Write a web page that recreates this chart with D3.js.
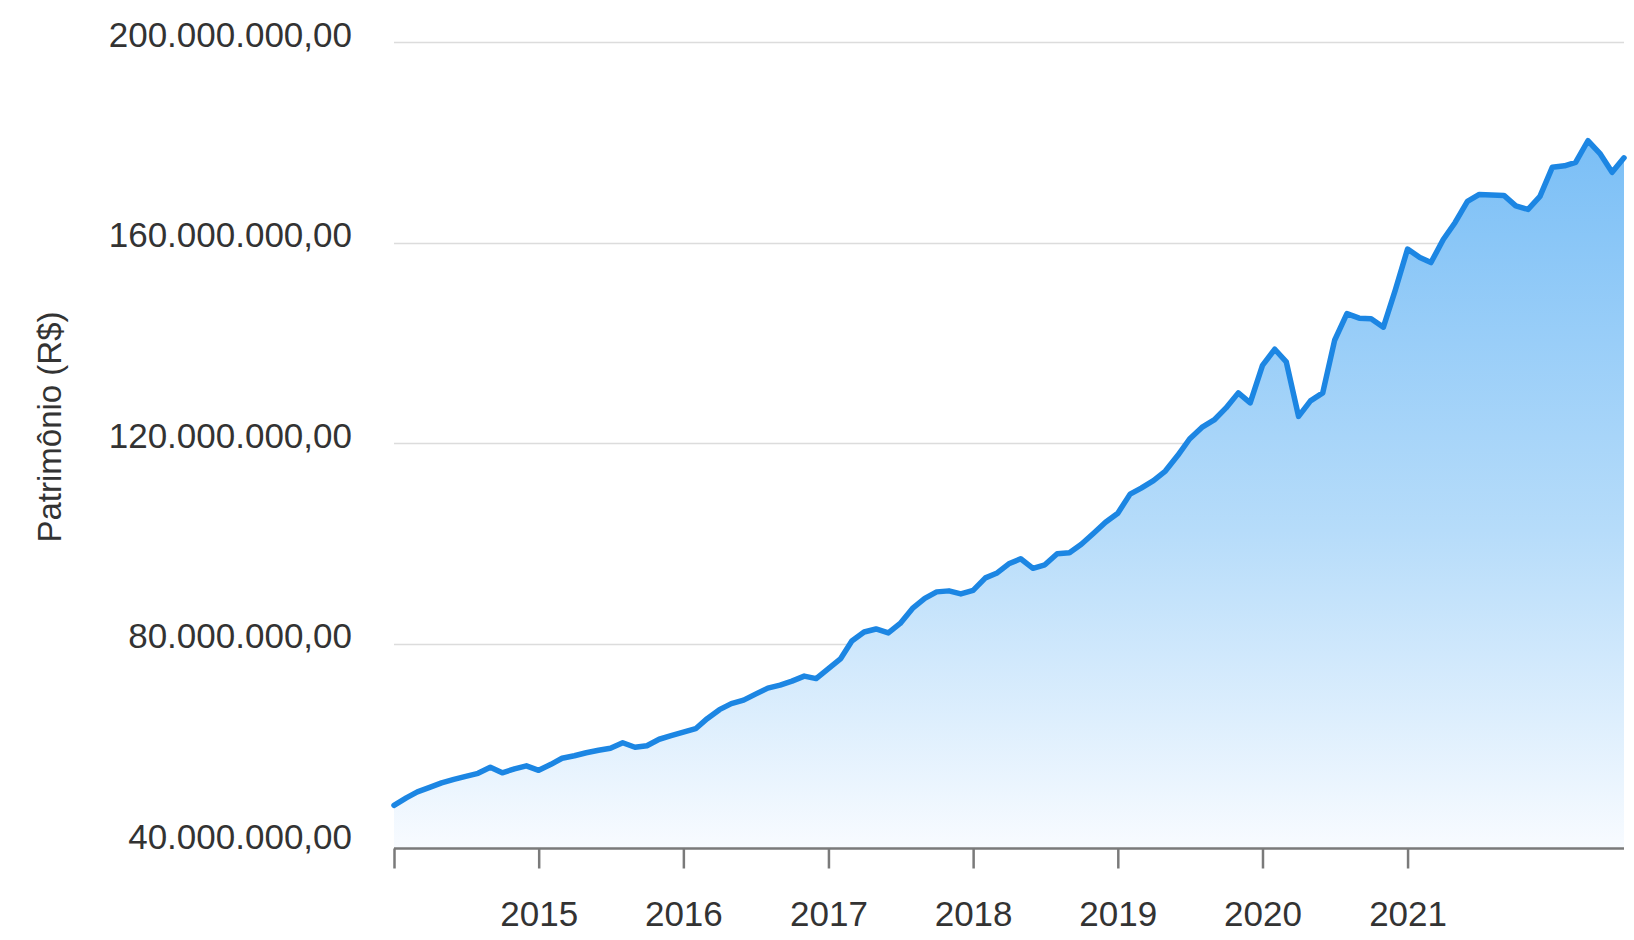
<!DOCTYPE html>
<html>
<head>
<meta charset="utf-8">
<script src="https://cdn.jsdelivr.net/npm/d3@7"></script>
<style>
  html, body { margin: 0; padding: 0; background: #ffffff; }
  svg { display: block; }
  text { font-family: "Liberation Sans", Arial, Helvetica, sans-serif; fill: #333; }
</style>
</head>
<body>
<svg id="chart" width="1634" height="940"></svg>
<script>
// ---- data (monthly, Jan 2014 .. Jul 2022), values in R$ millions ----
const startMonth = "2014-01";
const patrimonio = [
  47.7, 49.2, 50.4, 51.3, 52.2, 52.9, 53.5, 54.1, 55.3, 54.2, 55.0, 55.6,
  54.7, 55.9, 57.1, 57.6, 58.2, 58.7, 59.1, 60.2, 59.3, 59.6, 60.9, 61.6,
  62.3, 63.0, 65.0, 66.8, 68.0, 68.7, 69.9, 71.1, 71.7, 72.5, 73.5, 73.0,
  75.0, 77.0, 80.5, 82.3, 82.9, 82.1, 84.0, 87.0, 89.0, 90.3, 90.5, 89.9,
  90.6, 93.1, 94.0, 95.9, 96.9, 95.0, 95.7, 97.9, 98.1, 99.8, 102.0, 104.2,
  106.0, 109.8, 111.0, 112.5, 114.4, 117.5, 120.8, 123.1, 124.6, 127.0, 130.0, 128.0,
  135.5, 138.7, 136.2, 125.3, 128.4, 130.0, 140.5, 145.8, 144.9, 144.8, 143.1, 150.5,
  158.7, 157.0, 156.0, 160.6, 164.0, 168.2, 169.6, 169.5, 169.4, 167.3, 166.6, 169.2,
  175.0, 175.3, 176.0, 180.3, 177.8, 174.0, 176.9
];
const yTicks = [40, 80, 120, 160, 200];           // millions
const yTickLabels = ["40.000.000,00", "80.000.000,00", "120.000.000,00", "160.000.000,00", "200.000.000,00"];
const xTickYears = [2014, 2015, 2016, 2017, 2018, 2019, 2020, 2021];
const xTickLabels = ["", "2015", "2016", "2017", "2018", "2019", "2020", "2021"];
const yTitle = "Patrimônio (R$)";

// ---- build series ----
const parseMonth = d3.timeParse("%Y-%m");
const t0 = parseMonth(startMonth);
const series = patrimonio.map((v, i) => ({ date: d3.timeMonth.offset(t0, i), value: v * 1e6 }));

// ---- layout ----
const svg = d3.select("#chart");
const plotLeft = 394, plotRight = 1624;
const axisY = 848.5;

const x = d3.scaleTime()
  .domain([series[0].date, series[series.length - 1].date])
  .range([plotLeft, plotRight]);
const y = d3.scaleLinear()
  .domain([40e6, 200e6])
  .range([844, 42]);

// gradient
const defs = svg.append("defs");
const grad = defs.append("linearGradient")
  .attr("id", "areaGrad")
  .attr("gradientUnits", "userSpaceOnUse")
  .attr("x1", 0).attr("x2", 0)
  .attr("y1", y(180e6)).attr("y2", axisY);
grad.append("stop").attr("offset", "0%").attr("stop-color", "#7bbff6");
grad.append("stop").attr("offset", "55%").attr("stop-color", "#b6dcfa");
grad.append("stop").attr("offset", "100%").attr("stop-color", "#f8fbff");

// gridlines
svg.append("g")
  .selectAll("line")
  .data(yTicks.slice(1))
  .join("line")
  .attr("x1", plotLeft).attr("x2", plotRight)
  .attr("y1", d => Math.round(y(d * 1e6)) + 0.5)
  .attr("y2", d => Math.round(y(d * 1e6)) + 0.5)
  .attr("stroke", "#dcdcdc")
  .attr("stroke-width", 1.5);

// area
const area = d3.area()
  .x(d => x(d.date))
  .y0(axisY)
  .y1(d => y(d.value))
  .curve(d3.curveLinear);
svg.append("path")
  .datum(series)
  .attr("d", area)
  .attr("fill", "url(#areaGrad)");

// line
const line = d3.line()
  .x(d => x(d.date))
  .y(d => y(d.value))
  .curve(d3.curveLinear);
svg.append("path")
  .datum(series)
  .attr("d", line)
  .attr("fill", "none")
  .attr("stroke", "#1c86e3")
  .attr("stroke-width", 5.5)
  .attr("stroke-linejoin", "round")
  .attr("stroke-linecap", "round");

// y tick labels
svg.append("g")
  .selectAll("text")
  .data(yTicks)
  .join("text")
  .attr("x", 352)
  .attr("y", d => y(d * 1e6) - 8)
  .attr("text-anchor", "end")
  .attr("dominant-baseline", "central")
  .attr("font-size", 35)
  .text((d, i) => yTickLabels[i]);

// x axis
const xAxis = d3.axisBottom(x)
  .tickValues(xTickYears.map(yr => new Date(yr, 0, 1)))
  .tickSize(20)
  .tickSizeOuter(0)
  .tickFormat((d, i) => xTickLabels[i]);
const gx = svg.append("g")
  .attr("transform", `translate(0,${axisY})`)
  .call(xAxis);
gx.select(".domain").attr("stroke", "#7a7a7a").attr("stroke-width", 2.5)
  .attr("d", `M${plotLeft},0H${plotRight}`);
gx.selectAll(".tick line").attr("stroke", "#7a7a7a").attr("stroke-width", 2.5);
gx.selectAll(".tick text")
  .attr("font-size", 35)
  .attr("fill", "#333")
  .attr("font-family", "'Liberation Sans', Arial, sans-serif")
  .attr("dy", 0)
  .attr("y", 77);

// y title
svg.append("text")
  .attr("transform", "translate(49,427) rotate(-90)")
  .attr("text-anchor", "middle")
  .attr("dominant-baseline", "central")
  .attr("font-size", 33)
  .text(yTitle);
</script>
</body>
</html>
